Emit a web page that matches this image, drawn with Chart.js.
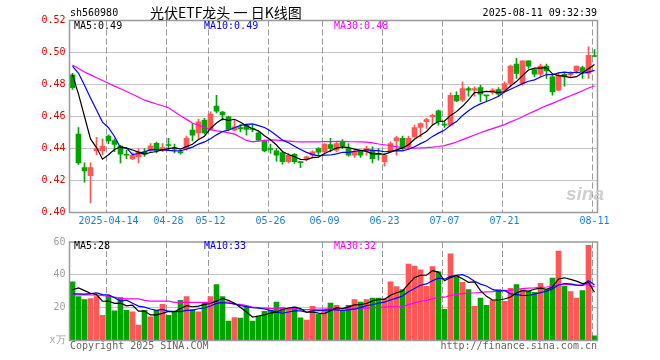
<!DOCTYPE html>
<html><head><meta charset="utf-8">
<script src="https://cdn.jsdelivr.net/npm/chart.js@4.4.1/dist/chart.umd.min.js"></script>
<style>
body{margin:0;background:#fff;}
#root{position:relative;width:660px;height:360px;overflow:hidden;background:#fff;font-family:"DejaVu Sans Mono",monospace;font-size:10px;}
.t{position:absolute;white-space:pre;line-height:12px;}
canvas{position:absolute;left:0;}
</style></head><body>
<div id="root">
<canvas id="c1" width="660" height="232" style="top:0"></canvas>
<canvas id="c2" width="660" height="128" style="top:232px"></canvas>
<div class="t" style="left:70px;top:7px;color:#000">sh560980</div>
<div class="t" style="left:150px;top:3px;font-family:'Noto Sans CJK SC';font-size:14px;line-height:18px;color:#000">光伏ETF龙头 一 日K线图</div>
<div class="t" style="right:63px;top:7px;color:#000">2025-08-11 09:32:39</div>
<div class="t" style="left:74px;top:20px;color:#000">MA5:0.49</div>
<div class="t" style="left:204px;top:20px;color:#0000ff">MA10:0.49</div>
<div class="t" style="left:334px;top:20px;color:#ff00ff">MA30:0.48</div>
<div class="t" style="left:74px;top:240px;color:#000">MA5:28</div>
<div class="t" style="left:204px;top:240px;color:#0000ff">MA10:33</div>
<div class="t" style="left:334px;top:240px;color:#ff00ff">MA30:32</div>
<div class="t" style="left:70px;top:340px;color:#666">Copyright 2025 SINA.COM</div>
<div class="t" style="right:63px;top:340px;color:#666">http://finance.sina.com.cn</div>
<div class="t" style="left:566px;top:184px;font-family:'Liberation Sans';font-style:italic;font-weight:bold;font-size:19px;line-height:20px;color:#cfcfcf">sina</div>
</div>
<script>
const YEAR = '2025';
const dates = ['04-03','04-07','04-08','04-09','04-10','04-11','04-14','04-15','04-16','04-17','04-18','04-21','04-22','04-23','04-24','04-25','04-28','04-29','04-30',
'05-06','05-07','05-08','05-09','05-12','05-13','05-14','05-15','05-16','05-19','05-20','05-21','05-22','05-23','05-26','05-27','05-28','05-29','05-30',
'06-03','06-04','06-05','06-06','06-09','06-10','06-11','06-12','06-13','06-16','06-17','06-18','06-19','06-20','06-23','06-24','06-25','06-26','06-27','06-30',
'07-01','07-02','07-03','07-04','07-07','07-08','07-09','07-10','07-11','07-14','07-15','07-16','07-17','07-18','07-21','07-22','07-23','07-24','07-25','07-28','07-29','07-30','07-31',
'08-01','08-04','08-05','08-06','08-07','08-08','08-11'];
const tickDays = ['04-14','04-28','05-12','05-26','06-09','06-23','07-07','07-21','08-11'];
const tickLabels = ['2025-04-14','04-28','05-12','05-26','06-09','06-23','07-07','07-21','08-11'];

const open = [0.486,0.449,0.428,0.423,0.4385,0.4385,0.4477,0.445,0.4415,0.4363,
0.4335,0.4348,0.4379,0.439,0.4433,0.439,0.4425,0.440,0.438,0.440,
0.4515,0.4498,0.4577,0.452,0.4665,0.4627,0.4598,0.4515,0.453,0.4546,
0.4525,0.4498,0.4446,0.440,0.4385,0.4375,0.4317,0.4363,0.4315,0.4331,
0.4358,0.440,0.438,0.4425,0.439,0.4442,0.440,0.4358,0.4383,0.4383,
0.439,0.4369,0.4317,0.4385,0.4448,0.4463,0.441,0.4473,0.4531,0.4567,
0.4598,0.4635,0.4552,0.4546,0.4733,0.4702,0.4775,0.4765,0.478,0.4733,
0.4754,0.4769,0.4765,0.4806,0.4927,0.4806,0.4948,0.4894,0.4865,0.4915,
0.4848,0.4765,0.4864,0.4862,0.4885,0.4906,0.4869,0.4979];
const high = [0.487,0.453,0.431,0.431,0.447,0.446,0.4485,0.446,0.442,0.439,
0.4373,0.440,0.440,0.443,0.444,0.443,0.4463,0.4427,0.439,0.4477,
0.4556,0.4583,0.4588,0.4629,0.4733,0.4633,0.4602,0.4581,0.455,0.4552,
0.4546,0.4504,0.4452,0.4427,0.440,0.4379,0.4369,0.4369,0.4315,0.4352,
0.4385,0.4406,0.443,0.4463,0.4442,0.4456,0.443,0.439,0.439,0.4415,
0.441,0.440,0.4369,0.4442,0.4477,0.4477,0.4477,0.4546,0.456,0.4588,
0.4615,0.464,0.4567,0.4748,0.4754,0.4817,0.4785,0.4785,0.4796,0.4733,
0.4775,0.4781,0.4817,0.4921,0.4963,0.4948,0.4948,0.490,0.4927,0.4927,
0.4858,0.4873,0.4873,0.488,0.4915,0.4915,0.5035,0.5019];
const low = [0.477,0.430,0.419,0.406,0.436,0.436,0.443,0.438,0.431,0.4335,
0.433,0.431,0.435,0.438,0.4373,0.438,0.439,0.4373,0.4365,0.439,
0.4448,0.4463,0.449,0.4515,0.4623,0.4577,0.451,0.451,0.4504,0.4483,
0.4504,0.4448,0.4379,0.4369,0.4321,0.4302,0.431,0.4306,0.428,0.4323,
0.4348,0.4358,0.4373,0.4379,0.4379,0.440,0.4352,0.4344,0.4344,0.4358,
0.431,0.4327,0.429,0.4379,0.4358,0.439,0.440,0.4469,0.4473,0.4525,
0.4546,0.4546,0.4531,0.454,0.4692,0.4692,0.4727,0.4727,0.4692,0.4698,
0.474,0.4727,0.4754,0.4785,0.4838,0.4796,0.490,0.4848,0.4848,0.4838,
0.4733,0.476,0.479,0.4848,0.4869,0.4838,0.4838,0.4973];
const close = [0.478,0.431,0.426,0.428,0.440,0.4415,0.4448,0.4425,0.4365,0.4358,
0.4358,0.4379,0.4365,0.4415,0.439,0.4406,0.4419,0.4396,0.4373,0.4463,
0.4483,0.4567,0.4498,0.4615,0.4633,0.461,0.452,0.4535,0.4523,0.452,
0.452,0.4452,0.4385,0.4394,0.4358,0.4317,0.4358,0.4317,0.4312,0.4348,
0.4379,0.4377,0.4427,0.440,0.443,0.4415,0.4358,0.4379,0.4358,0.440,
0.4337,0.4363,0.4358,0.443,0.4467,0.440,0.4463,0.4531,0.4556,0.4581,
0.4608,0.4567,0.4546,0.4733,0.4698,0.4775,0.4765,0.4775,0.474,0.4729,
0.4765,0.474,0.4806,0.4915,0.4869,0.4948,0.4915,0.4865,0.4915,0.4885,
0.4754,0.4858,0.4848,0.4869,0.4915,0.488,0.4983,0.4975];
const volume = [35.8,26.8,25.0,25.6,26.8,15.4,27.4,18.0,26.2,18.4,
17.4,9.4,18.4,14.4,18.4,22.0,15.4,17.4,24.4,26.8,
18.8,17.4,22.8,26.8,34.0,26.8,11.8,14.0,13.6,20.4,
11.8,14.8,17.8,18.4,23.4,20.0,19.4,20.4,13.8,12.4,
20.8,16.0,19.0,22.8,21.4,18.0,21.4,25.0,23.4,25.0,
25.8,25.8,25.4,35.8,32.8,31.0,46.6,45.4,43.0,33.0,
45.0,41.8,19.0,52.8,38.8,35.4,31.0,20.8,25.8,21.4,
24.4,31.0,23.8,31.8,34.0,31.0,30.0,29.4,34.8,30.8,
38.0,54.4,33.0,29.8,25.8,30.4,58.0,2.8];

const ma5Head = [0.486,0.474,0.460,0.446];
const ma10Head = [0.4915,0.4870,0.4795,0.4715,0.4640,0.4565,0.4530,0.4475,0.4405];
const ma30Head = [0.4922,0.4900,0.4878,0.4860,0.4842,0.4825,0.4808,0.4790,0.4773,0.4756,
0.4739,0.4720,0.4702,0.4690,0.4678,0.4667,0.4655,0.4630,0.4605,0.4582,
0.4558,0.4545,0.4532,0.4518,0.4510,0.4505,0.4498,0.4490,0.4470];
const vma5Head = [30.8,32.0,30.4,28.8];
const vma10Head = [28.4,28.4,28.2,28.6,29.0,28.0,27.8,26.0,24.0];
const vma30Head = [27.8,27.8,27.8,27.8,27.6,27.4,26.8,26.4,25.6,25.4,
25.4,25.4,24.4,24.0,24.0,24.0,24.0,23.2,23.2,23.2,
23.2,23.2,23.2,23.2,23.4,23.4,23.4,22.0,22.0];

const priceTicks = [0.40,0.42,0.44,0.46,0.48,0.50,0.52];
const volTicks = [0,20,40,60];
const volUnit = 'x万';

function movingAverage(vals, n, head){
  return vals.map((v,i)=>{
    if(i < n-1) return head[i];
    let s = 0; for(let k=i-n+1;k<=i;k++) s += vals[k];
    return s/n;
  });
}

const UP = '#ff5656', DOWN = '#00a400';
const candleColor = close.map((c,i)=> c >= open[i] ? UP : DOWN);
const MONO = {family:'DejaVu Sans Mono', size:10};

const boxPlugin = {
  id:'box',
  afterDraw(chart){
    const {ctx, chartArea:a} = chart;
    ctx.save();
    ctx.strokeStyle = '#9a9a9a';
    ctx.lineWidth = 1.5;
    ctx.strokeRect(a.left, a.top, a.right-a.left, a.bottom-a.top);
    ctx.restore();
  }
};

// dashed date grid + dotted value grid, placed through the chart's own scales
const gridPlugin = {
  id:'grid2',
  beforeDatasetsDraw(chart, args, opts){
    const {ctx, chartArea:a, scales:{x, y}} = chart;
    ctx.save();
    ctx.lineWidth = 1;
    ctx.strokeStyle = '#999999';
    ctx.setLineDash([6,3]);
    dates.forEach((d,i)=>{
      if(!tickDays.includes(d)) return;
      const px = Math.round(x.getPixelForValue(i) - 2.5) + 0.5;
      ctx.beginPath(); ctx.moveTo(px, a.top); ctx.lineTo(px, a.bottom); ctx.stroke();
    });
    ctx.strokeStyle = '#8a8a8a';
    ctx.setLineDash([1,1]);
    (opts.values || []).forEach(v=>{
      const py = Math.round(y.getPixelForValue(v) - 0.5) + 0.5;
      ctx.beginPath(); ctx.moveTo(a.left, py); ctx.lineTo(a.right, py); ctx.stroke();
    });
    ctx.restore();
  }
};

function xScale(showLabels){
  return {
    type:'category',
    offset:true,
    grid:{display:false, drawTicks:false},
    border:{display:false},
    ticks:{display:showLabels, autoSkip:false, maxRotation:0, minRotation:0, padding:3,
      color:'#1a7fd4', font:MONO,
      callback:(v,i)=>{ const k = tickDays.indexOf(dates[i]); return k>=0 ? tickLabels[k] : null; }},
    afterFit:s=>{ s.height = showLabels ? 19.5 : 0; }
  };
}

const lineDs = (data,color,order,w)=>({type:'line', data, borderColor:color, borderWidth:w, pointRadius:0, tension:0, order, fill:false});

new Chart(document.getElementById('c1'), {
  type:'bar',
  data:{
    labels: dates,
    datasets:[
      {data: low.map((l,i)=>[l, high[i]]), backgroundColor:candleColor, barThickness:1, grouped:false, order:4},
      {data: open.map((o,i)=>[Math.min(o,close[i]), Math.max(o,close[i])]), backgroundColor:candleColor, barThickness:5, grouped:false, minBarLength:1, order:3},
      lineDs(movingAverage(close,30,ma30Head),'#ff00ff',2,1.2),
      lineDs(movingAverage(close,10,ma10Head),'#0000ff',1,1.2),
      lineDs(movingAverage(close,5,ma5Head),'#000000',0,1.2)
    ]
  },
  options:{
    responsive:false, animation:false, devicePixelRatio:1,
    layout:{padding:{left:0,right:62.5,top:20.5,bottom:0}},
    plugins:{legend:{display:false}, tooltip:{enabled:false}, grid2:{values:priceTicks.slice(1,-1)}},
    scales:{
      x: xScale(true),
      y:{
        min:0.40, max:0.52,
        afterBuildTicks:s=>{ s.ticks = priceTicks.map(v=>({value:v})); },
        grid:{display:false, drawTicks:false},
        border:{display:false},
        ticks:{padding:4, color:'#e00000', font:MONO, callback:v=>Number(v).toFixed(2)},
        afterFit:s=>{ s.width = 69.5; }
      }
    }
  },
  plugins:[gridPlugin, boxPlugin]
});

new Chart(document.getElementById('c2'), {
  type:'bar',
  data:{
    labels: dates,
    datasets:[
      {data: volume, backgroundColor:candleColor, barThickness:5, grouped:false, order:3},
      lineDs(movingAverage(volume,30,vma30Head),'#ff00ff',2,1.2),
      lineDs(movingAverage(volume,10,vma10Head),'#0000ff',1,1.2),
      lineDs(movingAverage(volume,5,vma5Head),'#000000',0,1.2)
    ]
  },
  options:{
    responsive:false, animation:false, devicePixelRatio:1,
    layout:{padding:{left:0,right:62.5,top:8.5,bottom:19.5}},
    plugins:{legend:{display:false}, tooltip:{enabled:false}, grid2:{values:volTicks.slice(1,-1)}},
    scales:{
      x: xScale(false),
      y:{
        min:0, max:60,
        afterBuildTicks:s=>{ s.ticks = volTicks.map(v=>({value:v})); },
        grid:{display:false, drawTicks:false},
        border:{display:false},
        ticks:{padding:4, color:'#a0a0a0', font:MONO, callback:v=> v===0 ? volUnit : String(v)},
        afterFit:s=>{ s.width = 69.5; }
      }
    }
  },
  plugins:[gridPlugin, boxPlugin]
});
</script>
</body></html>
